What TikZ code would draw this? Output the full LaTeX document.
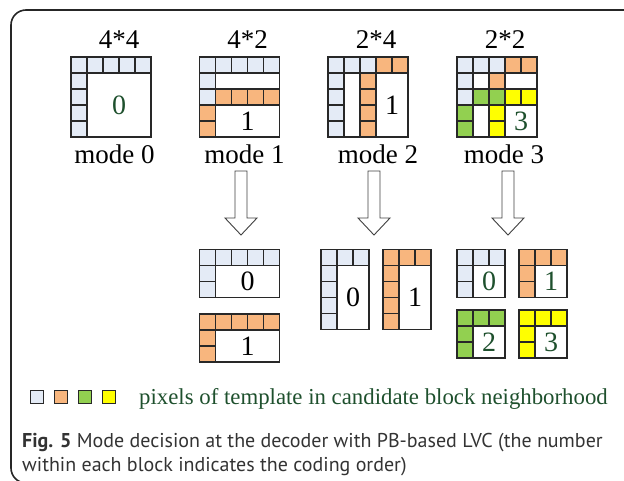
\documentclass[tikz,border=0pt]{standalone}
\usepackage{fontspec}
\setmainfont{Liberation Serif}
\newfontfamily\capfont{PT Sans}
\usetikzlibrary{positioning}

\definecolor{tblue}{RGB}{228,235,246}
\definecolor{torange}{RGB}{248,182,126}
\definecolor{tgreen}{RGB}{146,208,80}
\definecolor{tyellow}{RGB}{255,255,0}
\definecolor{dgreen}{RGB}{30,80,45}
\definecolor{edge}{RGB}{40,40,40}

\tikzset{
  cell/.style={draw=edge,line width=1.2pt},
  blank/.style={draw=edge,line width=1.2pt,fill=white},
  big/.style={font=\fontsize{27}{32}\selectfont},
  num/.style={font=\fontsize{28}{32}\selectfont},
  hollow/.style={draw=black!75,fill=white,line width=0.9pt,line join=miter},
  legendbox/.style={draw=edge,line width=0.8pt},
}

% one template pixel, column #1, row #2
\newcommand{\pix}[3]{\filldraw[cell,fill=#3] ({(#1)*16},{(#2)*16}) rectangle ++(16,16);}
% block with an L shaped template: x, y, cols, rows, colour, name, number, text colour
\newcommand{\lblock}[8]{%
  \begin{scope}[shift={(#1,#2)}]
    \foreach \i in {1,...,#3} \pix{\i-1}{0}{#5};
    \foreach \j in {2,...,#4} \pix{0}{\j-1}{#5};
    \draw[blank] (16,16) rectangle ({(#3)*16},{(#4)*16});
    \node[num,text=#8] (#6) at ({8+(#3)*8},{8+(#4)*8}) {#7};
  \end{scope}}
\newcommand{\hollowarrow}[1]{%
  \draw[hollow] ({#1-6},171) -- ({#1+6},171) -- ({#1+6},218) -- ({#1+16},218)
    -- (#1,235) -- ({#1-16},218) -- ({#1-6},218) -- cycle;}

\begin{document}
\begin{tikzpicture}[x=1pt,y=-1pt]
\useasboundingbox (0,0) rectangle (624,480);

% frame
\draw[line width=1.6pt,black!85,rounded corners=15pt] (40,483) -- (11,483) -- (11,10) -- (630,10);

% titles and mode names
\node[big,anchor=base] (t0) at (119,48) {4*4};
\node[big,anchor=base] (t1) at (247.5,48) {4*2};
\node[big,anchor=base] (t2) at (376,48) {2*4};
\node[big,anchor=base] (t3) at (505,48) {2*2};
\node[big,anchor=base] (m0) at (114.5,163) {mode 0};
\node[big,anchor=base] (m1) at (244.5,163) {mode 1};
\node[big,anchor=base] (m2) at (378,163) {mode 2};
\node[big,anchor=base] (m3) at (504,163) {mode 3};

% mode 0
\lblock{71}{57}{5}{5}{tblue}{n0}{0}{dgreen}

% mode 1
\begin{scope}[shift={(199.5,57)}]
  \foreach \i in {0,...,4} \pix{\i}{0}{tblue};
  \pix{0}{1}{tblue} \pix{0}{2}{tblue}
  \foreach \i in {1,...,4} \pix{\i}{2}{torange};
  \pix{0}{3}{torange} \pix{0}{4}{torange}
  \draw[blank] (16,16) rectangle (80,32);
  \draw[blank] (16,48) rectangle (80,80);
  \node[num] (n1) at (48,64) {1};
\end{scope}

% mode 2
\begin{scope}[shift={(328,57)}]
  \foreach \i in {0,1,2} \pix{\i}{0}{tblue};
  \pix{3}{0}{torange} \pix{4}{0}{torange}
  \foreach \j in {1,...,4} {\pix{0}{\j}{tblue} \pix{2}{\j}{torange}}
  \draw[blank] (16,16) rectangle (32,80);
  \draw[blank] (48,16) rectangle (80,80);
  \node[num] (n2) at (64,48) {1};
\end{scope}

% mode 3
\begin{scope}[shift={(457,57)}]
  \foreach \i in {0,1,2} \pix{\i}{0}{tblue};
  \pix{3}{0}{torange} \pix{4}{0}{torange}
  \pix{0}{1}{tblue} \pix{2}{1}{torange}
  \draw[blank] (16,16) rectangle (32,32);
  \draw[blank] (48,16) rectangle (80,32);
  \pix{0}{2}{tblue} \pix{1}{2}{tgreen} \pix{2}{2}{tgreen}
  \pix{3}{2}{tyellow} \pix{4}{2}{tyellow}
  \pix{0}{3}{tgreen} \pix{0}{4}{tgreen}
  \pix{2}{3}{tyellow} \pix{2}{4}{tyellow}
  \draw[blank] (16,48) rectangle (32,80);
  \draw[blank] (48,48) rectangle (80,80);
  \node[num,text=dgreen] (n3) at (64,64) {3};
\end{scope}

% arrows
\hollowarrow{241}
\hollowarrow{374}
\hollowarrow{508}

% split blocks
\lblock{199.5}{249.5}{5}{3}{tblue}{a0}{0}{black}
\lblock{199.5}{314}{5}{3}{torange}{a1}{1}{black}
\lblock{321}{249.5}{3}{5}{tblue}{b0}{0}{black}
\lblock{383}{249.5}{3}{5}{torange}{b1}{1}{black}
\lblock{457}{249.5}{3}{3}{tblue}{c0}{0}{dgreen}
\lblock{519}{249.5}{3}{3}{torange}{c1}{1}{dgreen}
\lblock{457}{310}{3}{3}{tgreen}{c2}{2}{dgreen}
\lblock{519}{310}{3}{3}{tyellow}{c3}{3}{dgreen}

% legend
\foreach \c [count=\k from 0] in {tblue,torange,tgreen,tyellow}
  \filldraw[legendbox,fill=\c] ({30+24*\k},390.5) rectangle ++(13,13);
\node[anchor=base west,text=dgreen,font=\fontsize{22.8}{26}\selectfont,inner sep=0pt] (leg) at (139,404)
  {pixels of template in candidate block neighborhood};

% caption
\node[anchor=base west,inner sep=0pt,text=black!80,font=\capfont\fontsize{20}{23}\selectfont] (cap1) at (22,447)
  {\textbf{Fig. 5} Mode decision at the decoder with PB-based LVC (the number};
\node[anchor=base west,inner sep=0pt,text=black!80,font=\capfont\fontsize{20}{23}\selectfont] (cap2) at (22,471)
  {within each block indicates the coding order)};
\end{tikzpicture}
\end{document}
